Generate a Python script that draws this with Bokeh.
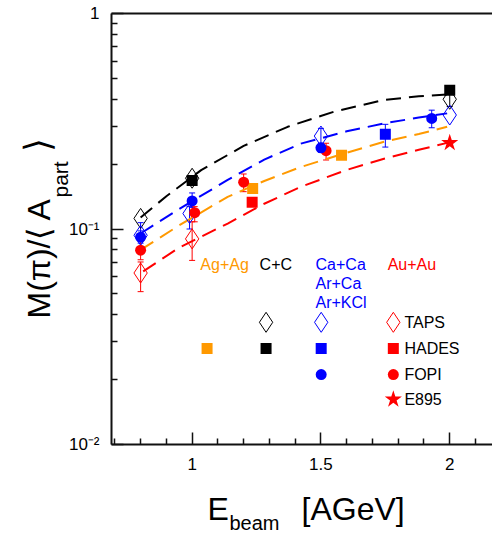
import math
from bokeh.plotting import figure
from bokeh.models import ColumnDataSource, Range1d, FixedTicker, Whisker, TeeHead, LinearAxis
from bokeh.embed import file_html
from bokeh.resources import INLINE
from bokeh.core.properties import value

FONT = "Liberation Sans"
ORANGE = "#ff9900"
BLUE = "#0000ff"
RED = "#ff0000"
BLACK = "#000000"

# ---------------- data (E_beam [AGeV], M(pi)/<A_part>) ----------------
# C+C (black)
cc_taps_E = [0.8, 1.0, 2.0]
cc_taps_M = [0.112, 0.172, 0.400]
cc_taps_err_E = [2.0]
cc_taps_lo = [0.370]
cc_taps_hi = [0.440]
cc_hades_E = [1.0, 2.0]
cc_hades_M = [0.168, 0.440]

# Ca+Ca / Ar+Ca / Ar+KCl (blue)
ca_taps_E = [0.8, 0.99, 1.5, 2.0]
ca_taps_M = [0.0935, 0.118, 0.270, 0.338]
ca_taps_err_E = [0.8, 0.99, 1.5]
ca_taps_lo = [0.083, 0.100, 0.240]
ca_taps_hi = [0.107, 0.127, 0.293]
ca_hades_E = [1.75]
ca_hades_M = [0.275]
ca_hades_lo = [0.240]
ca_hades_hi = [0.306]
ca_fopi_E = [0.8, 1.0, 1.5, 1.93]
ca_fopi_M = [0.0916, 0.135, 0.238, 0.326]
ca_fopi_lo = [0.086, 0.126, 0.227, 0.295]
ca_fopi_hi = [0.098, 0.147, 0.250, 0.356]

# Ag+Ag (orange)
ag_hades_E = [1.235, 1.58]
ag_hades_M = [0.154, 0.220]

# Au+Au (red)
au_taps_E = [0.8, 1.0]
au_taps_M = [0.0625, 0.090]
au_taps_lo = [0.0512, 0.0715]
au_taps_hi = [0.0703, 0.108]
au_hades_E = [1.233]
au_hades_M = [0.133]
au_fopi_E = [0.8, 1.01, 1.2, 1.52]
au_fopi_M = [0.0797, 0.119, 0.165, 0.231]
au_fopi_lo = [0.072, 0.108, 0.149, 0.209]
au_fopi_hi = [0.088, 0.127, 0.180, 0.250]
au_e895_E = [2.0]
au_e895_M = [0.251]

# fit curves (dashed)
cc_fit_E = [0.8, 0.9, 1.035, 1.2, 1.371, 1.55, 1.745, 1.88, 1.99]
cc_fit_M = [0.113, 0.142, 0.1875, 0.243, 0.298, 0.350, 0.397, 0.413, 0.421]
ca_fit_E = [0.8, 0.95, 1.138, 1.28, 1.422, 1.6, 1.745, 1.88, 1.99]
ca_fit_M = [0.0953, 0.124, 0.169, 0.210, 0.249, 0.284, 0.309, 0.329, 0.344]
ag_fit_E = [0.8, 0.95, 1.138, 1.28, 1.422, 1.6, 1.745, 1.88, 1.99]
ag_fit_M = [0.080, 0.104, 0.141, 0.167, 0.194, 0.226, 0.254, 0.276, 0.298]
au_fit_E = [0.81, 0.95, 1.138, 1.28, 1.422, 1.6, 1.745, 1.88, 1.99]
au_fit_M = [0.0636, 0.082, 0.106, 0.131, 0.157, 0.188, 0.212, 0.233, 0.251]

# ticks
x_major = [1.0, 1.5, 2.0]
x_minor = [0.7, 0.8, 0.9, 1.1, 1.2, 1.3, 1.4, 1.6, 1.7, 1.8, 1.9, 2.1]
y_major = [0.01, 0.1, 1.0]
y_minor = [0.02, 0.03, 0.04, 0.05, 0.06, 0.07, 0.08, 0.09,
           0.2, 0.3, 0.4, 0.5, 0.6, 0.7, 0.8, 0.9]
y_labels = {0.01: "10\u207b\u00b2", 0.1: "10\u207b\u00b9", 1.0: "1"}
x_labels = {1.0: "1", 1.5: "1.5", 2.0: "2"}

# legend texts
sys_names = ["Ag+Ag", "C+C", "Ca+Ca", "Au+Au"]
sys_colors = [ORANGE, BLACK, BLUE, RED]
sys_extra = ["Ar+Ca", "Ar+KCl"]
exp_names = ["TAPS", "HADES", "FOPI", "E895"]

# ---------------- layout constants ----------------
X0, X1 = 0.687, 2.166
Y0, Y1 = 0.01, 1.0
hdr_x = [1.032, 1.262, 1.479, 1.759]
hdr_y = [0.0686, 0.0560, 0.0456]
col_x = {"Ag+Ag": 1.058, "C+C": 1.287, "Ca+Ca": 1.501, "Au+Au": 1.781}
row_y = {"TAPS": 0.0369, "HADES": 0.0279, "FOPI": 0.0211, "E895": 0.0162}
exp_x = 1.824

p = figure(width=492, height=533, x_range=Range1d(X0, X1), y_range=Range1d(Y0, Y1),
           y_axis_type="log", output_backend="svg", toolbar_location=None,
           min_border_left=111, min_border_right=0, min_border_top=13, min_border_bottom=89)
p.xgrid.visible = False
p.ygrid.visible = False
p.outline_line_color = None
p.background_fill_color = "white"
p.border_fill_color = "white"

p.xaxis.ticker = FixedTicker(ticks=x_major, minor_ticks=x_minor)
p.yaxis.ticker = FixedTicker(ticks=y_major, minor_ticks=y_minor)
p.yaxis.major_label_overrides = y_labels
p.xaxis.major_label_overrides = x_labels
for ax in (p.xaxis[0], p.yaxis[0]):
    ax.axis_line_width = 2
    ax.axis_line_color = "#111111"
    ax.major_tick_in = 12
    ax.major_tick_out = 0
    ax.minor_tick_in = 6
    ax.minor_tick_out = 0
    ax.major_tick_line_width = 1.5
    ax.minor_tick_line_width = 1.5
    ax.major_tick_line_color = "#111111"
    ax.minor_tick_line_color = "#111111"
    ax.major_label_text_font = FONT
    ax.major_label_text_font_size = "17px"
    ax.major_label_text_color = "black"
p.yaxis.major_label_standoff = 12
p.xaxis.major_label_standoff = 13

top_axis = LinearAxis(ticker=FixedTicker(ticks=[]), major_tick_line_color=None,
                      minor_tick_line_color=None, major_label_text_font_size="0px",
                      major_label_standoff=0, axis_line_width=2, axis_line_color="#111111")
p.add_layout(top_axis, "above")

DASH = "15 8"
for fx, fy, c in [(cc_fit_E, cc_fit_M, BLACK), (ca_fit_E, ca_fit_M, BLUE),
                  (ag_fit_E, ag_fit_M, ORANGE), (au_fit_E, au_fit_M, RED)]:
    p.line(fx, fy, line_color=c, line_width=2, line_dash=DASH)


def errbars(E, lo, hi, color):
    src = ColumnDataSource(dict(x=E, lo=lo, hi=hi))
    w = Whisker(source=src, base="x", lower="lo", upper="hi", dimension="height",
                line_color=color, line_width=1,
                upper_head=TeeHead(size=6, line_color=color, line_width=1),
                lower_head=TeeHead(size=6, line_color=color, line_width=1))
    p.add_layout(w)


errbars(cc_taps_err_E, cc_taps_lo, cc_taps_hi, BLACK)
errbars(ca_taps_err_E, ca_taps_lo, ca_taps_hi, BLUE)
errbars(ca_hades_E, ca_hades_lo, ca_hades_hi, BLUE)
errbars(ca_fopi_E, ca_fopi_lo, ca_fopi_hi, BLUE)
errbars(au_taps_E, au_taps_lo, au_taps_hi, RED)
errbars(au_fopi_E, au_fopi_lo, au_fopi_hi, RED)

DIA = dict(marker="diamond", size=20, fill_color="white", fill_alpha=0, line_width=1)
SQ = dict(marker="square", size=11, line_width=0)
CI = dict(marker="circle", size=11, line_width=0)
ST = dict(marker="star", size=18, line_width=0)

# TAPS diamonds
p.scatter(cc_taps_E, cc_taps_M, line_color=BLACK, **DIA)
p.scatter(ca_taps_E, ca_taps_M, line_color=BLUE, **DIA)
p.scatter(au_taps_E, au_taps_M, line_color=RED, **DIA)
# HADES squares
p.scatter(cc_hades_E, cc_hades_M, fill_color=BLACK, **SQ)
p.scatter(ca_hades_E, ca_hades_M, fill_color=BLUE, **SQ)
p.scatter(ag_hades_E, ag_hades_M, fill_color=ORANGE, **SQ)
p.scatter(au_hades_E, au_hades_M, fill_color=RED, **SQ)
# FOPI circles
p.scatter(au_fopi_E, au_fopi_M, fill_color=RED, **CI)
p.scatter(ca_fopi_E, ca_fopi_M, fill_color=BLUE, **CI)
# E895 star
p.scatter(au_e895_E, au_e895_M, fill_color=RED, **ST)

# ---------------- in-plot legend ----------------
TXT = dict(text_font=value(FONT), text_font_size="16px", text_baseline="middle", text_align="left")
p.text(x=hdr_x, y=[hdr_y[0]] * 4, text=sys_names, text_color=sys_colors, **TXT)
p.text(x=[hdr_x[2]] * 2, y=hdr_y[1:], text=sys_extra, text_color=BLUE, **TXT)
p.text(x=[exp_x] * 4, y=[row_y[n] for n in exp_names], text=exp_names, text_color=BLACK, **TXT)

p.scatter([col_x["C+C"]], [row_y["TAPS"]], line_color=BLACK, **DIA)
p.scatter([col_x["Ca+Ca"]], [row_y["TAPS"]], line_color=BLUE, **DIA)
p.scatter([col_x["Au+Au"]], [row_y["TAPS"]], line_color=RED, **DIA)
p.scatter([col_x["Ag+Ag"], col_x["C+C"], col_x["Ca+Ca"], col_x["Au+Au"]], [row_y["HADES"]] * 4,
          fill_color=[ORANGE, BLACK, BLUE, RED], **SQ)
p.scatter([col_x["Ca+Ca"], col_x["Au+Au"]], [row_y["FOPI"]] * 2, fill_color=[BLUE, RED], **CI)
p.scatter([col_x["Au+Au"]], [row_y["E895"]], fill_color=RED, **ST)

# ---------------- axis titles (pixel offsets from frame bottom-left, drawn unclipped) ----------------
def lab(text, dx, dy, size, angle=0.0):
    p.text(x=[X0], y=[Y0], text=[text], x_offset=dx, y_offset=dy, angle=angle,
           text_font=value(FONT), text_font_size=size, text_color="black",
           text_align="left", text_baseline="alphabetic", level="overlay")

lab("M(\u03c0)/\u27e8 A", -73, -126, "32px", math.pi / 2)
lab("part", -51, -247, "21px", math.pi / 2)
lab("\u27e9", -74, -293, "36px", math.pi / 2)

lab("E", 96, 64, "32px")
lab("beam", 118, 78, "20px")
lab("[AGeV]", 190, 64, "32px")

open("out.html", "w").write(file_html(p, INLINE))
